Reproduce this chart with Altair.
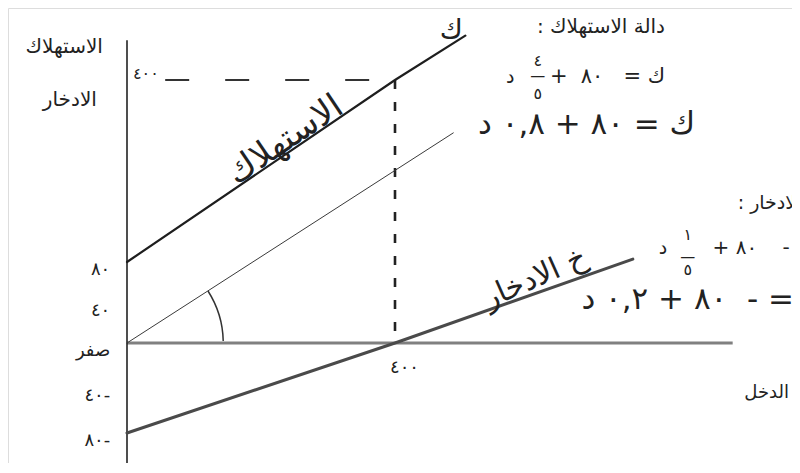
import altair as alt
import pandas as pd

# ---- values ----
income_c = [0, 400, 505]
consumption = [80, 400, 478]
income_s = [0, 400, 755]
saving = [-80, 0, 85]
income_m = [0, 487]
slope_line = [0, 307]
eq_income = 400
eq_value = 400
y_ticks = [80, 40, 0, -40, -80]
y_tick_labels = ["٨٠", "٤٠", "صفر", "٤٠-", "٨٠-"]
x_tick_label = "٤٠٠"
y_top_label = "٤٠٠"

FONT = "DejaVu Sans"
INK = "#222222"
SP = "\u00a0"
RLM = "\u200f"

XS = alt.Scale(domain=[0, 400], range=[119, 387], nice=False, zero=False)
YS = alt.Scale(domain=[-80, 0, 80, 400], range=[425, 335, 254, 72], nice=False, zero=False)


def enc(**kw):
    base = dict(x=alt.X("x:Q", scale=XS, axis=None), y=alt.Y("y:Q", scale=YS, axis=None))
    base.update(kw)
    return base


def line_layer(xs, ys, color, width):
    df = pd.DataFrame({"x": xs, "y": ys})
    return alt.Chart(df).mark_line(color=color, strokeWidth=width, strokeCap="round").encode(**enc())


# axes drawn like the sketch
y_axis = alt.Chart(pd.DataFrame({"x": [0], "y": [-135], "y2": [470]})).mark_rule(
    color=INK, strokeWidth=1.6).encode(**enc(y2="y2:Q"))
x_axis = alt.Chart(pd.DataFrame({"x": [0], "x2": [904], "y": [0]})).mark_rule(
    color="#808080", strokeWidth=3.2).encode(**enc(x2="x2:Q"))

cons = line_layer(income_c, consumption, "#1e1e1e", 2.2)
sav = line_layer(income_s, saving, "#4a4a4a", 3)
thin = line_layer(income_m, slope_line, "#3a3a3a", 1)

v_dash = alt.Chart(pd.DataFrame({"x": [eq_income], "y": [eq_value], "y2": [0]})).mark_rule(
    color=INK, strokeWidth=2.6, strokeDash=[9, 13]).encode(**enc(y2="y2:Q"))
h_dash = alt.Chart(pd.DataFrame({"x": [57], "x2": [eq_income], "y": [eq_value]})).mark_rule(
    color="#333333", strokeWidth=2, strokeDash=[24, 36]).encode(**enc(x2="x2:Q"))

angle_arc = alt.Chart(pd.DataFrame({"x": [0], "y": [0]})).mark_arc(
    radius=97, radius2=95.5, theta=1.0, theta2=1.55, color="#333333").encode(**enc())

# tick labels
ticks_df = pd.DataFrame({"x": [-25] * len(y_ticks), "y": y_ticks, "t": y_tick_labels})
y_labels = alt.Chart(ticks_df).mark_text(
    font=FONT, fontSize=18, align="right", baseline="middle", dy=8, color=INK
).encode(**enc(text="t:N"))

x_lab = alt.Chart(pd.DataFrame({"x": [eq_income], "y": [0], "t": [x_tick_label]})).mark_text(
    font=FONT, fontSize=18, align="left", baseline="middle", dx=-5, dy=25, color=INK
).encode(**enc(text="t:N"))
y_top = alt.Chart(pd.DataFrame({"x": [9], "y": [eq_value], "t": [y_top_label]})).mark_text(
    font=FONT, fontSize=16, align="left", baseline="middle", dy=-6, color=INK
).encode(**enc(text="t:N"))

notes = [
    # x, y, text, size, angle, align
    (-36, 458, "الاستهلاك", 20, 0, "right"),
    (-45, 365, "الادخار", 20, 0, "right"),
    (988, -44, "الدخل", 18, 0, "right"),
    (484, 486, "ك", 28, 0, "center"),
    (236, 294, "الاستهلاك", 34, 326, "center"),
    (609, 64, "خ الادخار", 30, 336, "center"),
    (803, 493, "دالة الاستهلاك :" + RLM, 20, 0, "right"),
    (803, 405, "ك" + SP + "=" + SP * 3 + "٨٠" + SP * 2 + "+" + RLM, 21, 0, "right"),
    (613, 434, "٤", 16, 0, "center"),
    (613, 407, "—", 15, 0, "center"),
    (613, 375, "٥", 16, 0, "center"),
    (572, 405, "د", 19, 0, "center"),
    (848, 321, "ك = ٨٠ + ٠,٨ د", 31, 0, "right"),
    (1060, 184, "دالة الادخار :" + RLM, 19, 0, "right"),
    (1062, 105, "خ" + SP + "=" + SP * 2 + "-" + SP * 4 + "٨٠" + SP + "+" + RLM, 20, 0, "right"),
    (837, 128, "١", 16, 0, "center"),
    (837, 88, "—", 15, 0, "center"),
    (837, 72, "٥", 16, 0, "center"),
    (800, 105, "د", 19, 0, "center"),
    (1040, 42, "خ" + SP + "=" + SP + "-" + SP * 2 + "٨٠ + ٠,٢ د", 31, 0, "right"),
]
ndf = pd.DataFrame(notes, columns=["x", "y", "t", "s", "a", "al"])
note_layers = []
for al in ["left", "center", "right"]:
    sub = ndf[ndf["al"] == al]
    if len(sub):
        note_layers.append(
            alt.Chart(sub).mark_text(font=FONT, align=al, baseline="middle", color=INK).encode(
                **enc(text="t:N", size=alt.Size("s:Q", scale=None, legend=None),
                      angle=alt.Angle("a:Q", scale=None)))
        )

chart = alt.layer(
    x_axis, y_axis, h_dash, v_dash, thin, cons, sav, angle_arc,
    y_labels, x_lab, y_top, *note_layers
).properties(
    width=784, height=455, autosize=alt.AutoSizeParams(type="none"), padding=0
).configure_view(strokeWidth=0, stroke="transparent").configure(background="white")

chart.save("out.html", embed_options={"renderer": "svg", "actions": False})
